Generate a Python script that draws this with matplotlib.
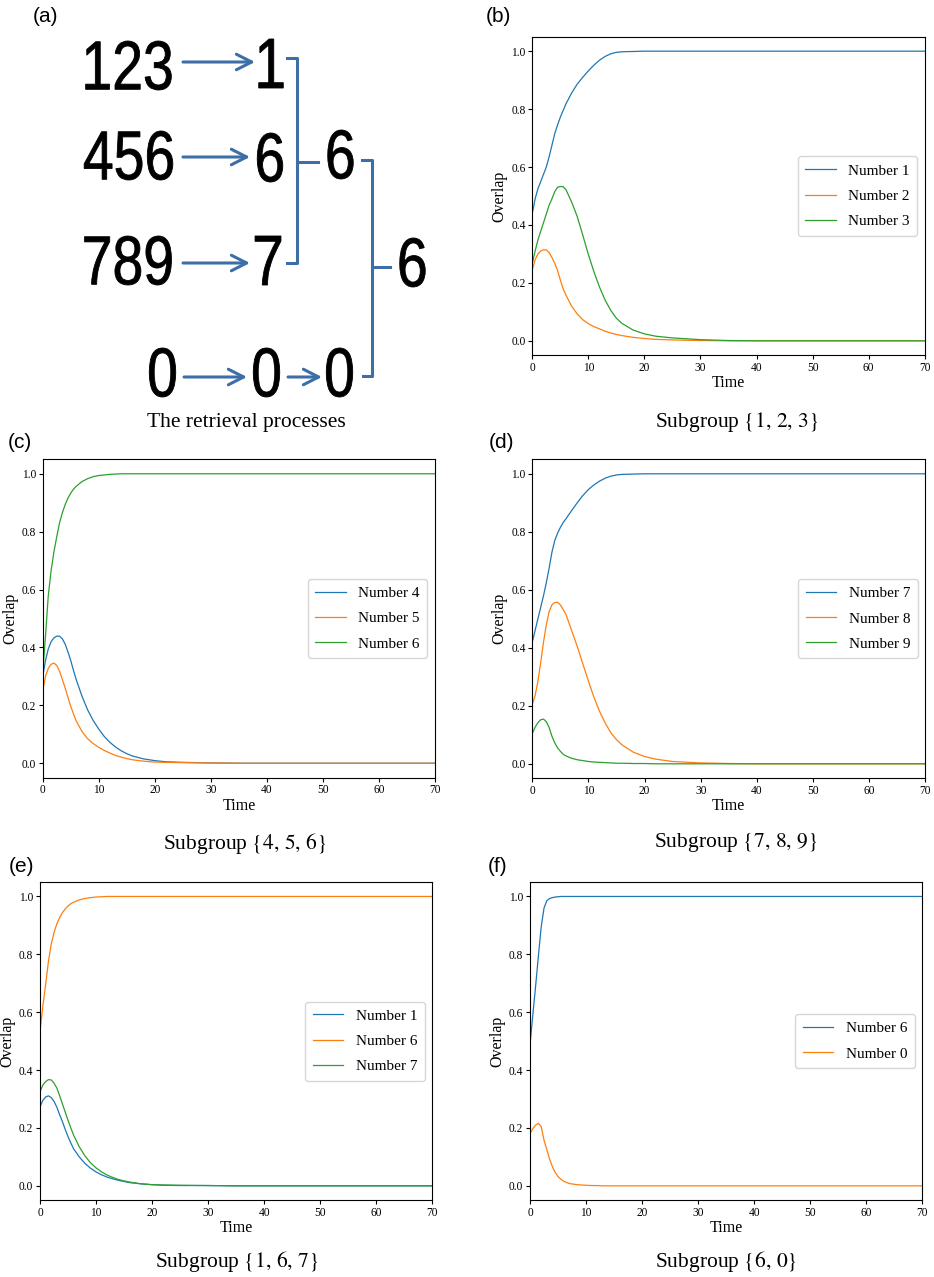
import matplotlib
matplotlib.use('Agg')
import matplotlib.pyplot as plt
from matplotlib.textpath import TextPath
from matplotlib.patches import PathPatch
from matplotlib.font_manager import FontProperties
from matplotlib.transforms import Affine2D

plt.rcParams['font.family'] = 'serif'
plt.rcParams['font.serif'] = ['Liberation Serif', 'DejaVu Serif']
plt.rcParams['mathtext.fontset'] = 'stix'

W, H = 934, 1277

# время (общая сетка для всех кривых)
t = [0, 0.5, 1, 1.5, 2, 2.5, 3, 3.5, 4, 4.5, 5, 5.5, 6, 7, 8, 9, 10, 11, 12, 13,
     14, 15, 16, 18, 20, 22, 25, 30, 35, 40, 50, 60, 70]

# (b) Subgroup {1, 2, 3}
b_num1 = [.44, .49, .525, .55, .575, .60, .635, .675, .715, .745, .772, .795, .818, .855, .886, .91, .932, .952, .969, .982,
          .991, .996, .998, .999, 1, 1, 1, 1, 1, 1, 1, 1, 1]
b_num2 = [.245, .28, .30, .31, .314, .314, .305, .288, .268, .243, .21, .18, .158, .12, .093, .073, .059, .049, .041, .033,
          .027, .022, .018, .012, .008, .005, .003, .001, 0, 0, 0, 0, 0]
b_num3 = [.268, .31, .348, .378, .408, .438, .468, .49, .515, .53, .533, .532, .522, .48, .43, .365, .298, .238, .185, .14,
          .105, .078, .06, .037, .024, .016, .01, .004, .001, 0, 0, 0, 0]

# (c) Subgroup {4, 5, 6}
c_num4 = [.30, .355, .395, .42, .433, .439, .439, .43, .412, .385, .355, .32, .288, .232, .185, .148, .118, .092, .072, .056,
          .043, .033, .025, .015, .009, .005, .003, .001, 0, 0, 0, 0, 0]
c_num5 = [.25, .30, .328, .342, .346, .338, .318, .29, .26, .228, .197, .17, .145, .11, .085, .068, .055, .044, .035, .027,
          .021, .016, .012, .007, .004, .003, .002, .001, 0, 0, 0, 0, 0]
c_num6 = [.31, .44, .58, .665, .73, .782, .83, .865, .893, .916, .933, .947, .957, .973, .983, .99, .994, .996, .998, .999,
          1, 1, 1, 1, 1, 1, 1, 1, 1, 1, 1, 1, 1]

# (d) Subgroup {7, 8, 9}
d_num7 = [.42, .46, .50, .54, .58, .625, .675, .73, .77, .795, .815, .832, .845, .873, .90, .925, .946, .962, .975, .985,
          .992, .996, .998, .999, 1, 1, 1, 1, 1, 1, 1, 1, 1]
d_num8 = [.206, .235, .285, .35, .42, .48, .525, .548, .556, .557, .548, .532, .515, .46, .405, .345, .285, .228, .18, .14,
          .107, .083, .065, .04, .025, .016, .008, .003, .001, 0, 0, 0, 0]
d_num9 = [.105, .126, .142, .152, .154, .145, .125, .095, .072, .055, .043, .033, .027, .019, .014, .011, .008, .006, .005, .004,
          .003, .002, .002, .001, .001, 0, 0, 0, 0, 0, 0, 0, 0]

# (e) Subgroup {1, 6, 7}
e_num1 = [.273, .295, .307, .311, .305, .292, .272, .246, .222, .195, .17, .148, .128, .10, .078, .061, .048, .038, .03, .024,
          .019, .015, .011, .007, .004, .002, .001, .001, 0, 0, 0, 0, 0]
e_num6 = [.533, .62, .695, .775, .835, .875, .905, .927, .944, .957, .967, .975, .98, .988, .993, .996, .998, .999, 1, 1,
          1, 1, 1, 1, 1, 1, 1, 1, 1, 1, 1, 1, 1]
e_num7 = [.325, .348, .36, .367, .366, .355, .338, .312, .283, .255, .226, .2, .175, .135, .104, .08, .062, .048, .037, .029,
          .022, .017, .013, .007, .004, .003, .002, .001, 0, 0, 0, 0, 0]

# (f) Subgroup {6, 0}
f_num6 = [.487, .59, .69, .795, .895, .96, .985, .993, .996, .998, .999, 1, 1, 1, 1, 1, 1, 1, 1, 1,
          1, 1, 1, 1, 1, 1, 1, 1, 1, 1, 1, 1, 1]
f_num0 = [.181, .198, .21, .216, .205, .158, .125, .092, .066, .046, .032, .023, .016, .008, .005, .003, .002, .001, .001, 0,
          0, 0, 0, 0, 0, 0, 0, 0, 0, 0, 0, 0, 0]


def box(x0, y0, x1, y1):
    # пиксели -> доли фигуры
    return [x0 / W, 1 - y1 / H, (x1 - x0) / W, (y1 - y0) / H]


fig = plt.figure(figsize=(W / 100, H / 100), dpi=100)

# вспомогательные оси в пикселях для схемы (a) и подписей
bg = fig.add_axes([0, 0, 1, 1])
bg.set_xlim(0, W)
bg.set_ylim(H, 0)
bg.axis('off')

blue = '#3d6fa6'
fp = FontProperties(family='Liberation Sans')


def digits(xc, yb, s, h=49, sx=0.8):
    # узкие цифры: текст как контур, сжатый по горизонтали
    p = TextPath((0, 0), s, size=1, prop=fp)
    ext = p.get_extents()
    k = h / ext.height
    w = ext.width * k * sx
    tr = Affine2D().translate(-ext.x0, -ext.y0).scale(k * sx, -k).translate(xc - w / 2, yb)
    bg.add_patch(PathPatch(tr.transform_path(p), facecolor='black', edgecolor='black', lw=0.6))


for x, y, s in [(128.5, 90, '123'), (128.5, 180, '456'), (128, 285, '789'), (162.5, 397, '0'),
                (271, 88, '1'), (270, 182, '6'), (268, 285, '7'), (266.5, 397, '0'),
                (340.5, 179, '6'), (339.5, 397, '0'), (412.5, 287, '6')]:
    digits(x, y, s)

for x0, x1, y in [(183, 255, 62), (183, 250, 157), (183, 250, 263), (184, 247, 377), (288, 322, 377)]:
    bg.annotate('', xy=(x1, y), xytext=(x0, y),
                arrowprops=dict(arrowstyle='->,head_length=0.55,head_width=0.28', lw=2.2,
                                color=blue, mutation_scale=20, shrinkA=0, shrinkB=0))

bg.plot([287, 297, 297, 287], [58, 58, 263, 263], color=blue, lw=2.2)
bg.plot([297, 318], [162, 162], color=blue, lw=2.2)
bg.plot([362, 372, 372, 363], [160, 160, 376, 376], color=blue, lw=2.2)
bg.plot([372, 390], [267, 267], color=blue, lw=2.2)

# подписи панелей
lab = dict(family=['Liberation Sans', 'DejaVu Sans'], fontsize=15, ha='center', va='center')
for x, y, s in [(45, 16, '(a)'), (498, 16, '(b)'), (20, 442, '(c)'),
                (501, 442, '(d)'), (21, 867, '(e)'), (498, 867, '(f)')]:
    bg.text(x, y, s, **lab)

cap = dict(fontsize=15.5, ha='center', va='center')
bg.text(246, 422, 'The retrieval processes', **cap)
bg.text(737, 422, r'Subgroup $\{1,\, 2,\, 3\}$', **cap)
bg.text(245, 843, r'Subgroup $\{4,\, 5,\, 6\}$', **cap)
bg.text(736, 843, r'Subgroup $\{7,\, 8,\, 9\}$', **cap)
bg.text(237, 1262, r'Subgroup $\{1,\, 6,\, 7\}$', **cap)
bg.text(726, 1262, r'Subgroup $\{6,\, 0\}$', **cap)


def panel(rect, series, labels):
    ax = fig.add_axes(box(*rect))
    for y, name in zip(series, labels):
        ax.plot(t, y, lw=0.9, label=name)
    ax.set_xlim(0, 70)
    ax.set_ylim(-0.05, 1.05)
    ax.set_yticks([0, 0.2, 0.4, 0.6, 0.8, 1.0])
    ax.tick_params(labelsize=8.3, length=2.8, pad=2)
    ax.set_xlabel('Time', fontsize=11.5, labelpad=1)
    ax.set_ylabel('Overlap', fontsize=11.5, labelpad=2.5)
    ax.legend(loc='center right', fontsize=11, labelspacing=0.75, borderpad=0.5)
    return ax


panel((532.3, 36.7, 924.7, 355.3), [b_num1, b_num2, b_num3], ['Number 1', 'Number 2', 'Number 3'])
panel((42.7, 459.3, 435, 777.7), [c_num4, c_num5, c_num6], ['Number 4', 'Number 5', 'Number 6'])
panel((532.3, 459.3, 925.3, 778.3), [d_num7, d_num8, d_num9], ['Number 7', 'Number 8', 'Number 9'])
panel((40, 882, 432.3, 1200.3), [e_num1, e_num6, e_num7], ['Number 1', 'Number 6', 'Number 7'])
panel((530, 882, 922.3, 1200.3), [f_num6, f_num0], ['Number 6', 'Number 0'])

fig.savefig('out.png', dpi=100)
